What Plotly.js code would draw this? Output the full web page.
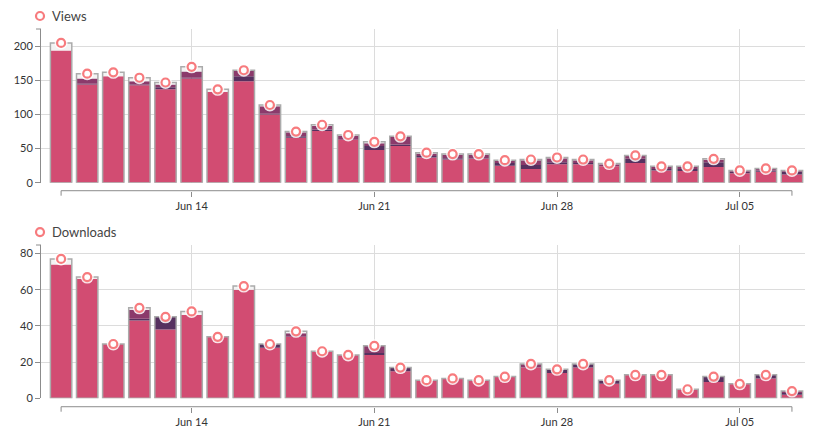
<!DOCTYPE html>
<html>
<head>
<meta charset="utf-8">
<script src="https://cdn.plot.ly/plotly-3.0.1.min.js"></script>
<style>
  html, body { margin: 0; padding: 0; background: #fff; }
  #chart { width: 823px; height: 438px; }
</style>
</head>
<body>
<div id="chart"></div>
<script>
// Daily dates shown on both panels
const dates = [
  '2020-06-09', '2020-06-10', '2020-06-11', '2020-06-12', '2020-06-13', '2020-06-14', '2020-06-15',
  '2020-06-16', '2020-06-17', '2020-06-18', '2020-06-19', '2020-06-20', '2020-06-21', '2020-06-22',
  '2020-06-23', '2020-06-24', '2020-06-25', '2020-06-26', '2020-06-27', '2020-06-28', '2020-06-29',
  '2020-06-30', '2020-07-01', '2020-07-02', '2020-07-03', '2020-07-04', '2020-07-05', '2020-07-06',
  '2020-07-07'
];

// Views, split into stacked segments (bottom to top)
const viewsMain  = [194, 144, 156, 143, 137, 153, 133, 149, 100, 66, 76, 63, 48, 54, 37, 34, 35, 25, 20, 27, 27, 24, 29, 18, 17, 23, 14, 16, 12];
const viewsDeep  = [0, 1, 0, 1, 3, 1, 0, 7, 1, 2, 2, 0, 6, 2, 2, 2, 1, 4, 6, 3, 2, 0, 6, 2, 3, 7, 2, 2, 4];
const viewsPlum  = [0, 8, 0, 5, 4, 9, 0, 8, 11, 6, 5, 6, 4, 12, 4, 5, 5, 3, 7, 6, 4, 3, 4, 3, 3, 4, 1, 2, 1];
const viewsOther = [11, 7, 6, 5, 3, 7, 4, 1, 2, 1, 2, 1, 2, 0, 1, 1, 1, 1, 1, 1, 1, 1, 1, 1, 1, 1, 1, 1, 1];

// Downloads, split the same way
const dlMain  = [74, 66, 30, 43, 38, 46, 34, 60, 28, 34, 26, 24, 24, 15, 10, 11, 10, 12, 17, 14, 17, 8, 13, 13, 5, 9, 8, 11, 2];
const dlDeep  = [0, 0, 0, 1, 7, 0, 0, 0, 2, 0, 0, 0, 1, 2, 0, 0, 0, 0, 0, 2, 2, 2, 0, 0, 0, 3, 0, 2, 1];
const dlPlum  = [0, 0, 0, 5, 0, 0, 0, 0, 0, 2, 0, 0, 4, 0, 0, 0, 0, 0, 2, 0, 0, 0, 0, 0, 0, 0, 0, 0, 1];
const dlOther = [3, 1, 0, 1, 0, 2, 0, 2, 0, 1, 0, 0, 0, 0, 0, 0, 0, 0, 0, 0, 0, 0, 0, 0, 0, 0, 0, 0, 0];

const segColors = ['#d24c72', '#56305f', '#8b3a6b', '#f3f3f3'];
const outlineColor = '#ababab';
const ringColor = '#f77b7e';
const DAY = 864e5;
const barWidth = 0.82 * DAY;

// Builds overlaid bars with explicit bases so one outline can wrap the whole stack
function stackTraces(segments, xa, ya, name) {
  const traces = [];
  const base = dates.map(() => 0);
  segments.forEach((seg, i) => {
    traces.push({
      type: 'bar', x: dates, y: seg.slice(), base: base.slice(),
      width: dates.map(() => barWidth),
      marker: { color: segColors[i], line: { width: 0 } },
      xaxis: xa, yaxis: ya, hoverinfo: 'skip', showlegend: false
    });
    seg.forEach((v, k) => { base[k] += v; });
  });
  const totals = base.slice();
  traces.push({
    type: 'bar', x: dates, y: totals, base: dates.map(() => 0),
    width: dates.map(() => barWidth),
    marker: { color: 'rgba(0,0,0,0)', line: { color: outlineColor, width: 1.5 } },
    xaxis: xa, yaxis: ya, hoverinfo: 'skip', showlegend: false
  });
  traces.push({
    type: 'scatter', mode: 'markers', x: dates, y: totals,
    marker: { symbol: 'circle', size: 13, color: 'rgba(255,255,255,0.85)', line: { width: 0 } },
    xaxis: xa, yaxis: ya, hoverinfo: 'skip', showlegend: false
  });
  traces.push({
    type: 'scatter', mode: 'markers', x: dates, y: totals, name: name,
    marker: { symbol: 'circle', size: 8, color: '#fff', line: { color: ringColor, width: 2.2 } },
    xaxis: xa, yaxis: ya, showlegend: false
  });
  return { traces, totals };
}

const views = stackTraces([viewsMain, viewsDeep, viewsPlum, viewsOther], 'x', 'y', 'Views');
const downloads = stackTraces([dlMain, dlDeep, dlPlum, dlOther], 'x2', 'y2', 'Downloads');

const first = new Date(dates[0] + 'T00:00:00Z').getTime();
const last = new Date(dates[dates.length - 1] + 'T00:00:00Z').getTime();
const xRange = [new Date(first - 0.77 * DAY).toISOString(), new Date(last + 0.5 * DAY).toISOString()];

const font = { family: 'Lato, "Open Sans", sans-serif', size: 11, color: '#333' };
const axisGrey = '#8c8c8c';

function xAxis(pos) {
  return {
    type: 'date', range: xRange, anchor: 'free', position: pos,
    tick0: '2020-06-14', dtick: 7 * DAY, tickformat: '%b %d',
    showgrid: true, gridcolor: '#dcdcdc', gridwidth: 1,
    ticks: 'outside', ticklen: 5, tickcolor: axisGrey,
    showline: false, zeroline: false, fixedrange: true, tickfont: font
  };
}
function yAxis(domain, xa, maxVal, dtick) {
  return {
    domain: domain, anchor: xa, range: [0, maxVal * 1.1], dtick: dtick,
    showgrid: true, gridcolor: '#dcdcdc', gridwidth: 1,
    showline: true, linecolor: axisGrey, linewidth: 1,
    ticks: 'outside', ticklen: 5, tickcolor: axisGrey,
    zeroline: false, fixedrange: true, tickfont: font
  };
}

const topXPos = 0.5843, botXPos = 0.029;

// x axis domain lines span first to last day, with end ticks
function xDomainShapes(xref, pos) {
  const line = { color: axisGrey, width: 1 };
  return [
    { type: 'line', xref: xref, yref: 'paper', x0: dates[0], x1: dates[dates.length - 1], y0: pos, y1: pos, line },
    { type: 'line', xref: xref, yref: 'paper', ysizemode: 'pixel', yanchor: pos, x0: dates[0], x1: dates[0], y0: 0, y1: -5, line },
    { type: 'line', xref: xref, yref: 'paper', ysizemode: 'pixel', yanchor: pos, x0: dates[dates.length - 1], x1: dates[dates.length - 1], y0: 0, y1: -5, line }
  ];
}
function yTopTick(yref) {
  return { type: 'line', xref: 'paper', yref: yref, xsizemode: 'pixel', xanchor: 0, x0: -5, x1: 0, y0: 1, y1: 1,
           line: { color: axisGrey, width: 1 } };
}
function legendMark(ypos) {
  return { type: 'circle', xref: 'paper', yref: 'paper', xsizemode: 'pixel', ysizemode: 'pixel',
           xanchor: -0.0013, yanchor: ypos, x0: -4, x1: 4, y0: -4, y1: 4,
           fillcolor: '#fff', line: { color: ringColor, width: 2.2 } };
}

const layout = {
  width: 823, height: 438,
  margin: { l: 41, r: 18, t: 29, b: 20 },
  paper_bgcolor: '#fff', plot_bgcolor: '#fff',
  barmode: 'overlay', showlegend: false,
  font: font,
  xaxis: xAxis(topXPos),
  yaxis: yAxis([0.6049, 1], 'x', Math.max(...views.totals), 50),
  xaxis2: xAxis(botXPos),
  yaxis2: yAxis([0.0506, 0.4447], 'x2', Math.max(...downloads.totals), 20),
  shapes: [
    ...xDomainShapes('x', topXPos), ...xDomainShapes('x2', botXPos),
    yTopTick('y domain'), yTopTick('y2 domain'),
    legendMark(1.0334), legendMark(0.478)
  ],
  annotations: [
    { text: 'Views', xref: 'paper', yref: 'paper', x: 0.0118, y: 1.0334, xanchor: 'left', yanchor: 'middle',
      showarrow: false, font: { family: font.family, size: 13, color: '#444' } },
    { text: 'Downloads', xref: 'paper', yref: 'paper', x: 0.0118, y: 0.478, xanchor: 'left', yanchor: 'middle',
      showarrow: false, font: { family: font.family, size: 13, color: '#444' } }
  ]
};

Plotly.newPlot('chart', [...views.traces, ...downloads.traces], layout, { displayModeBar: false, staticPlot: true });
</script>
</body>
</html>
